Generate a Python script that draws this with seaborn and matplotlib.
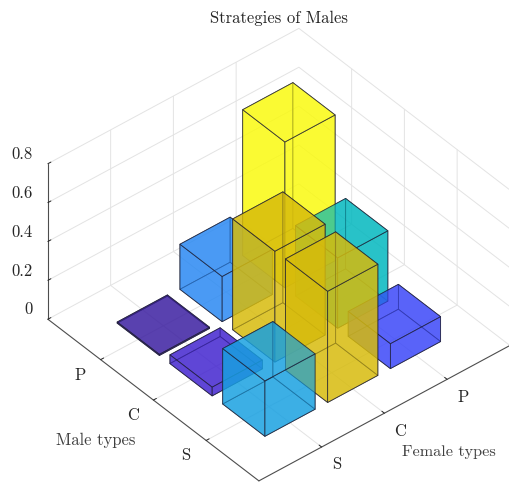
import numpy as np
import matplotlib
matplotlib.use("Agg")
import matplotlib.pyplot as plt
from matplotlib.colors import to_rgba
from matplotlib.transforms import Affine2D
import seaborn as sns

sns.set_theme(style="white")
plt.rcParams['font.family'] = ['cmr10', 'DejaVu Sans']
plt.rcParams['axes.formatter.use_mathtext'] = True
plt.rcParams['axes.unicode_minus'] = False

female_labels = ['S', 'C', 'P']
male_labels = ['S', 'C', 'P']
female_pos = [1, 2, 3]
male_pos = [1, 2, 3]
z_ticks = [0, 0.2, 0.4, 0.6, 0.8]
z_labels = ['0', '0.2', '0.4', '0.6', '0.8']

# rows: male S, C, P ; columns: female S, C, P
heights = np.array([
    [0.285, 0.572, 0.128],
    [0.045, 0.57, 0.362],
    [0.006, 0.232, 0.75],
])
colors = [
    ['#17a0e1', '#d7bb0b', '#3a46f9'],
    ['#4123cf', '#d7bb0b', '#00b7be'],
    ['#3a1da0', '#2888f3', '#fafa0d'],
]

BAR_W = 0.8
FACE_ALPHA = 0.6
fig = plt.figure(figsize=(5.10, 4.85), dpi=100)
ax = fig.add_axes([26.5 / 510, -23 / 485, 491.5 / 510, 491.5 / 485], projection='3d')
ax.set_proj_type('ortho')
ax.view_init(elev=40, azim=-130)
ax.set_box_aspect((327.7, 328.3, 203))

xs, ys, ds, cs = [], [], [], []
for i, m in enumerate(male_pos):
    for j, f in enumerate(female_pos):
        xs.append(f - BAR_W / 2)
        ys.append(m - BAR_W / 2)
        ds.append(heights[i, j])
        cs.append(to_rgba(colors[i][j], FACE_ALPHA))
ax.bar3d(xs, ys, np.zeros(9), BAR_W, BAR_W, ds, color=cs,
         shade=False, edgecolor=(0.12, 0.12, 0.2, 0.75), linewidth=0.6)

ax.set_xlim(0, 4)
ax.set_ylim(0, 4)
ax.set_zlim(0, 0.8)
ax.set_xticks(female_pos, female_labels)
ax.set_yticks(male_pos, male_labels)
ax.set_zticks(z_ticks, z_labels)

grid_c = (0.89, 0.89, 0.89, 1)
line_c = (0.3, 0.3, 0.3, 1)


def shift_tick_labels(axis, dx, dy, ha):
    """Keep native tick labels but nudge them by (dx, dy) pixels."""
    original = axis.get_major_ticks

    def patched(numticks=None):
        ticks = original(numticks)
        for tick in ticks:
            tick.label1.set_transform(ax.transData + Affine2D().translate(dx, dy))
            tick.label1.set_ha(ha)
            tick.label1.set_va('center')
        return ticks
    axis.get_major_ticks = patched


for axis in (ax.xaxis, ax.yaxis, ax.zaxis):
    axis.set_pane_color((1, 1, 1, 0))
    axis.pane.set_edgecolor(grid_c)
    axis.pane.set_linewidth(0.7)
    axis.line.set_color(line_c)
    axis.line.set_linewidth(0.8)
    axis._axinfo['grid'].update(color=grid_c, linewidth=0.7)
    axis._axinfo['tick'].update(inward_factor=0.0, outward_factor=0.15, linewidth={True: 0.7, False: 0.5}, color=line_c)
    axis.set_tick_params(labelsize=12, labelcolor='#262626', colors='#262626', pad=2)

shift_tick_labels(ax.xaxis, 4, 0.5, 'center')
shift_tick_labels(ax.yaxis, -6.5, 1.5, 'center')
shift_tick_labels(ax.zaxis, 9.5, 9, 'right')

ax.zaxis.set_ticks_position('upper')
ax.set_title('Strategies of Males', fontsize=12, color='#262626', x=0.514, y=1.073, pad=0)
ax.text2D(96 / 510, 1 - 440 / 485, 'Male types', transform=fig.transFigure, ha='center', va='center', fontsize=12, color='#404040')
ax.text2D(448.5 / 510, 1 - 452 / 485, 'Female types', transform=fig.transFigure, ha='center', va='center', fontsize=11.7, color='#404040')

fig.savefig('out.png', dpi=100)
